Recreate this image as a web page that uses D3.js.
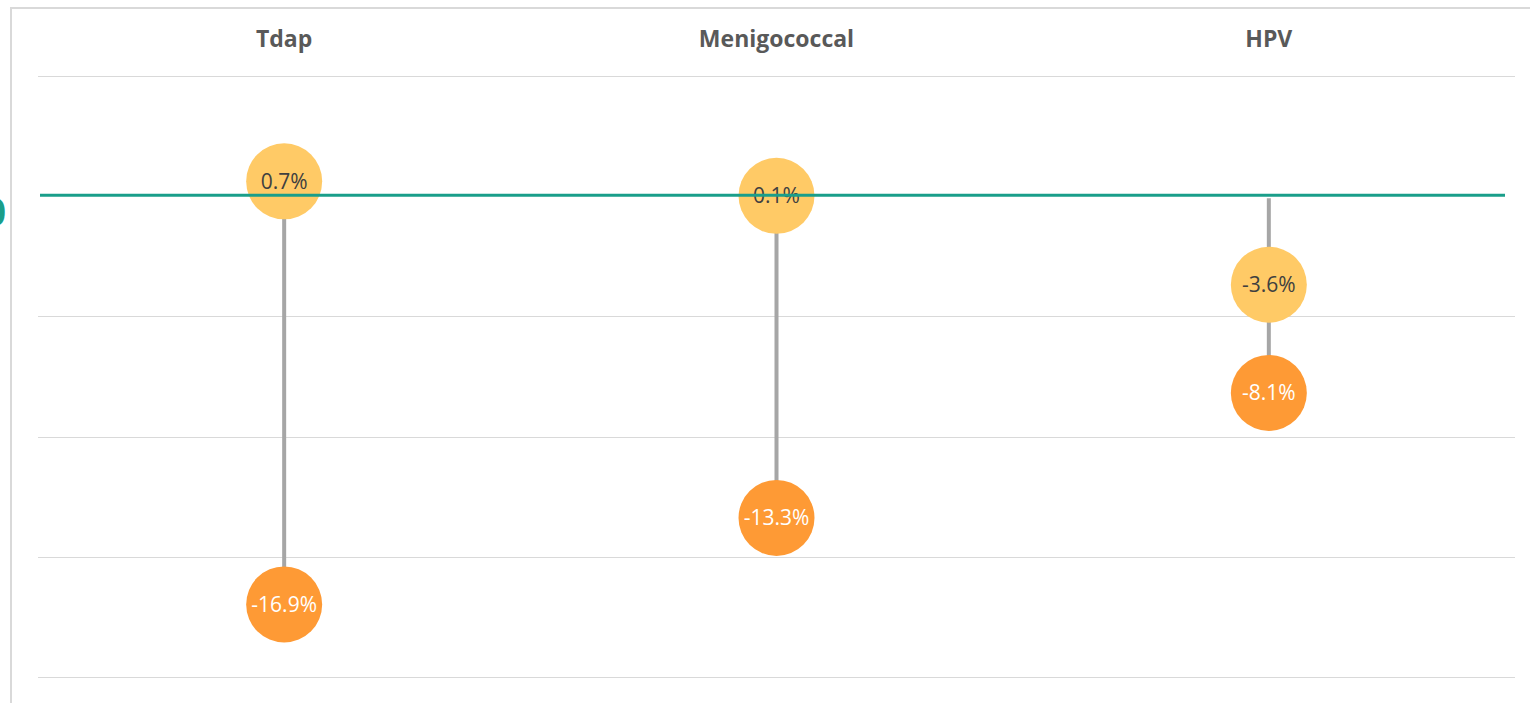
<!DOCTYPE html>
<html>
<head>
<meta charset="utf-8">
<script src="https://cdn.jsdelivr.net/npm/d3@7"></script>
<style>
  body { margin: 0; background: #fff; }
  svg { display: block; font-family: "Open Sans", Lato, sans-serif; }
</style>
</head>
<body>
<svg id="chart" width="1530" height="703"></svg>
<script>
// vaccine categories and the two values per category (percent change)
const categories = ["Tdap", "Menigococcal", "HPV"];
const upperValues = [0.7, 0.1, -3.6];
const lowerValues = [-16.9, -13.3, -8.1];
const gridTicks = [5, 0, -5, -10, -15, -20];

const width = 1530, height = 703;
const plot = { left: 38, right: 1515, top: 76, bottom: 677 };

const svg = d3.select("#chart");

// outer frame (cut off on the right / bottom)
svg.append("rect")
  .attr("x", 11).attr("y", 8)
  .attr("width", 1600).attr("height", 800)
  .attr("fill", "none")
  .attr("stroke", "#d9d9d9")
  .attr("stroke-width", 2);

const x = d3.scaleBand()
  .domain(categories)
  .range([plot.left, plot.right]);

const y = d3.scaleLinear()
  .domain([5, -20])
  .range([plot.top, plot.bottom]);

// marks sit a couple of px lower than the gridlines in the original
const ym = v => y(v) + 2;

// gridlines
svg.append("g")
  .selectAll("line")
  .data(gridTicks.filter(d => d !== 0))
  .join("line")
  .attr("x1", plot.left).attr("x2", plot.right)
  .attr("y1", d => Math.round(y(d)) + 0.5)
  .attr("y2", d => Math.round(y(d)) + 0.5)
  .attr("stroke", "#d9d9d9")
  .attr("stroke-width", 1);

// category headers
svg.append("g")
  .selectAll("text")
  .data(categories)
  .join("text")
  .attr("x", d => x(d) + x.bandwidth() / 2)
  .attr("y", 47)
  .attr("text-anchor", "middle")
  .attr("font-size", 23)
  .attr("font-weight", "bold")
  .attr("fill", "#595959")
  .text(d => d);

const rows = categories.map((c, i) => ({ cat: c, hi: upperValues[i], lo: lowerValues[i] }));

// stems
svg.append("g")
  .selectAll("line")
  .data(rows)
  .join("line")
  .attr("x1", d => x(d.cat) + x.bandwidth() / 2)
  .attr("x2", d => x(d.cat) + x.bandwidth() / 2)
  .attr("y1", d => ym(Math.max(0, d.hi, d.lo)))
  .attr("y2", d => ym(Math.min(0, d.hi, d.lo)))
  .attr("stroke", "#a6a6a6")
  .attr("stroke-width", 4);

// cut-off zero label at left edge
svg.append("text")
  .attr("x", 6).attr("y", 226)
  .attr("text-anchor", "end")
  .attr("font-size", 40)
  .attr("font-weight", "bold")
  .attr("fill", "#1a9e8a")
  .text("0");

const r = 38;

// lower (darker) circles
const lowG = svg.append("g")
  .selectAll("g")
  .data(rows)
  .join("g")
  .attr("transform", d => `translate(${x(d.cat) + x.bandwidth() / 2},${ym(d.lo)})`);
lowG.append("circle").attr("r", r).attr("fill", "#fe9a35");
lowG.append("text")
  .attr("text-anchor", "middle")
  .attr("dy", "0.35em")
  .attr("font-size", 21)
  .attr("fill", "#ffffff")
  .text(d => d.lo.toFixed(1) + "%");

// upper (lighter) circles
const hiG = svg.append("g")
  .selectAll("g")
  .data(rows)
  .join("g")
  .attr("transform", d => `translate(${x(d.cat) + x.bandwidth() / 2},${ym(d.hi)})`);
hiG.append("circle").attr("r", r).attr("fill", "#ffca66");
hiG.append("text")
  .attr("text-anchor", "middle")
  .attr("dy", "0.35em")
  .attr("font-size", 21)
  .attr("fill", "#404040")
  .text(d => d.hi.toFixed(1) + "%");

// zero line on top
svg.append("line")
  .attr("x1", 40).attr("x2", 1505)
  .attr("y1", y(0) - 1).attr("y2", y(0) - 1)
  .attr("stroke", "#1a9e8a")
  .attr("stroke-width", 3);
</script>
</body>
</html>
